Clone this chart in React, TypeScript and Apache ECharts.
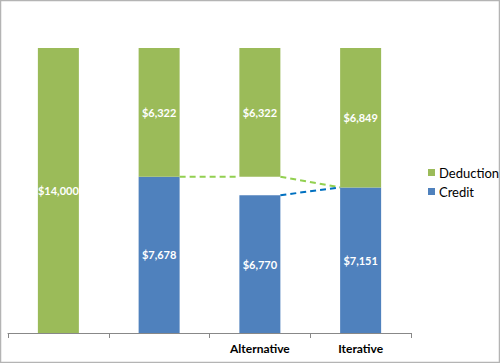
import React, { useEffect, useRef } from "react";
import * as echarts from "echarts";

const categories = ["", "", "Alternative", "Iterative"];
const creditValues = [0, 7678, 6770, 7151];
const gapValues = [0, 0, 908, 0];
const deductionValues = [14000, 6322, 6322, 6849];
// connectors: [fromCategory, fromValue, toCategory, toValue]
const greenConnectors = [
  [1, 7678, 2, 7678],
  [2, 7678, 3, 7151],
];
const blueConnectors = [[2, 6770, 3, 7151]];

const FONT = "Lato, 'Liberation Sans', sans-serif";
const fmt = (v: number) => (v ? "$" + v.toLocaleString("en-US") : "");

export default function App() {
  const ref = useRef<HTMLDivElement>(null);
  useEffect(() => {
    const chart = echarts.init(ref.current!, null, { renderer: "svg" });
    const BAR_W = 41;
    const connector = (color: string) => (params: any, api: any) => {
      const p1 = api.coord([api.value(0), api.value(1)]);
      const p2 = api.coord([api.value(2), api.value(3)]);
      return {
        type: "line",
        shape: { x1: p1[0] + BAR_W / 2, y1: p1[1], x2: p2[0] - BAR_W / 2, y2: p2[1] },
        style: { stroke: color, lineWidth: 2, lineDash: [6, 4], fill: null },
      };
    };
    const labelStyle = {
      show: true,
      position: "inside",
      color: "#fff",
      fontWeight: "bold",
      fontSize: 11,
      fontFamily: FONT,
      formatter: (p: any) => fmt(p.value),
    };
    chart.setOption({
      animation: false,
      textStyle: { fontFamily: FONT },
      graphic: [
        {
          type: "rect",
          shape: { x: 0.5, y: 0.5, width: 499, height: 362 },
          style: { fill: "none", stroke: "#B4B4B4", lineWidth: 1.5 },
          silent: true,
        },
      ],
      grid: { left: 8, right: 89, top: 7.3, bottom: 30, containLabel: false },
      legend: {
        data: ["Deduction", "Credit"],
        orient: "vertical",
        left: 423,
        top: 161,
        icon: "rect",
        itemWidth: 7,
        itemHeight: 7,
        itemGap: 6,
        textStyle: { fontSize: 13, color: "#000", fontFamily: FONT, padding: [0, 0, 0, -1] },
      },
      xAxis: {
        type: "category",
        data: categories,
        axisLine: { lineStyle: { color: "#888" } },
        axisTick: { show: true, length: 5, lineStyle: { color: "#888" } },
        axisLabel: { color: "#000", fontWeight: "bold", fontSize: 12, fontFamily: FONT, margin: 9 },
      },
      yAxis: {
        type: "value",
        min: 0,
        max: 16000,
        show: false,
        splitLine: { show: false },
      },
      series: [
        {
          name: "Credit",
          type: "bar",
          stack: "s",
          barWidth: BAR_W,
          data: creditValues,
          itemStyle: { color: "#4F81BD" },
          label: labelStyle,
        },
        {
          name: "gap",
          type: "bar",
          stack: "s",
          barWidth: BAR_W,
          data: gapValues,
          itemStyle: { color: "rgba(0,0,0,0)" },
          silent: true,
        },
        {
          name: "Deduction",
          type: "bar",
          stack: "s",
          barWidth: BAR_W,
          data: deductionValues,
          itemStyle: { color: "#9BBB59" },
          label: labelStyle,
        },
        {
          type: "custom",
          renderItem: connector("#92D050"),
          data: greenConnectors,
          encode: { x: 0, y: 1 },
          z: 5,
          silent: true,
        },
        {
          type: "custom",
          renderItem: connector("#0070C0"),
          data: blueConnectors,
          encode: { x: 0, y: 1 },
          z: 5,
          silent: true,
        },
      ],
    });
    return () => chart.dispose();
  }, []);
  return (
    <div
      ref={ref}
      style={{ position: "fixed", left: 0, top: 0, width: 500, height: 363, background: "#fff" }}
    />
  );
}
